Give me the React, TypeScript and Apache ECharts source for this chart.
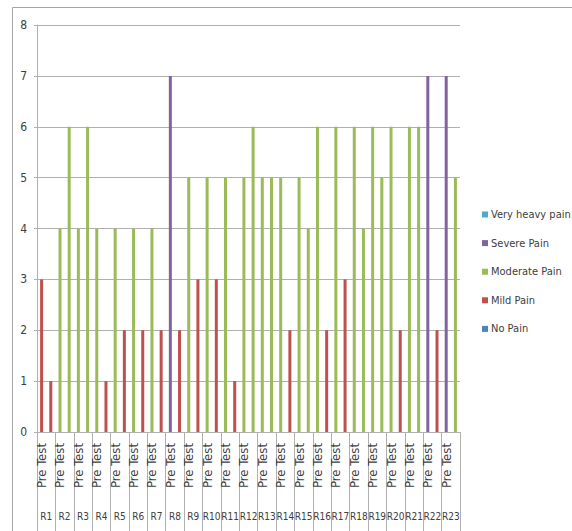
import React, { useEffect, useRef } from "react";
import * as echarts from "echarts";

const groups = ["R1","R2","R3","R4","R5","R6","R7","R8","R9","R10","R11","R12","R13","R14","R15","R16","R17","R18","R19","R20","R21","R22","R23"];
const testLabels = ["Pre Test", "Post Test"];
const yTicks = [0, 1, 2, 3, 4, 5, 6, 7, 8];

const veryHeavyPain: (number | null)[] = [
  null,null, null,null, null,null, null,null, null,null, null,null, null,null, null,null, null,null, null,null, null,null, null,null, null,null, null,null, null,null, null,null, null,null, null,null, null,null, null,null, null,null, null,null, null,null,
];
const severePain: (number | null)[] = [
  null,null, null,null, null,null, null,null, null,null, null,null, null,null, 7,null, null,null, null,null, null,null, null,null, null,null, null,null, null,null, null,null, null,null, null,null, null,null, null,null, null,null, 7,null, 7,null,
];
const moderatePain: (number | null)[] = [
  null,null, 4,6, 4,6, 4,null, 4,null, 4,null, 4,null, null,null, 5,null, 5,null, 5,null, 5,6, 5,5, 5,null, 5,4, 6,null, 6,null, 6,4, 6,5, 6,null, 6,6, null,null, null,5,
];
const mildPain: (number | null)[] = [
  3,1, null,null, null,null, null,1, null,2, null,2, null,2, null,2, null,3, null,3, null,1, null,null, null,null, null,2, null,null, null,2, null,3, null,null, null,null, null,2, null,null, null,2, null,null,
];
const noPain: (number | null)[] = [
  null,null, null,null, null,null, null,null, null,null, null,null, null,null, null,null, null,null, null,null, null,null, null,null, null,null, null,null, null,null, null,null, null,null, null,null, null,null, null,null, null,null, null,null, null,null,
];

const FONT = "'DejaVu Sans Condensed', 'Liberation Sans', sans-serif";
const TEXT = "#404040";
const GRID = "#b0b0b0";

export default function App() {
  const ref = useRef<HTMLDivElement>(null);
  useEffect(() => {
    if (!ref.current) return;
    const chart = echarts.init(ref.current, undefined, { renderer: "svg" });
    const categories: string[] = [];
    groups.forEach(() => testLabels.forEach((t) => categories.push(t)));
    const mk = (name: string, data: (number | null)[], color: string) => ({
      name,
      type: "bar",
      stack: "total",
      barWidth: 3,
      data,
      itemStyle: { color },
      xAxisIndex: 0,
    });
    chart.setOption({
      animation: false,
      backgroundColor: "#ffffff",
      textStyle: { fontFamily: FONT },
      grid: { left: 37, right: 112, top: 25, bottom: 99, containLabel: false },
      graphic: [
        {
          type: "rect",
          shape: { x: 12.5, y: 7.5, width: 700, height: 700 },
          style: { fill: "none", stroke: "#a6a6a6", lineWidth: 1 },
          silent: true,
        },
      ],
      legend: {
        orient: "vertical",
        left: 477,
        top: 204,
        itemWidth: 6,
        itemHeight: 6,
        itemGap: 17.6,
        icon: "rect",
        textStyle: { color: TEXT, fontSize: 11, fontFamily: FONT, padding: [0, 0, 0, -2] },
        data: ["Very heavy pain", "Severe Pain", "Moderate Pain", "Mild Pain", "No Pain"],
      },
      xAxis: [
        {
          type: "category",
          data: categories,
          boundaryGap: true,
          axisLine: { show: true, lineStyle: { color: GRID } },
          axisTick: { show: true, interval: 1, length: 100, lineStyle: { color: GRID } },
          axisLabel: {
            interval: 1,
            rotate: 90,
            margin: 11,
            fontSize: 13,
            color: TEXT,
            fontFamily: FONT,
          },
        },
        {
          type: "category",
          data: groups,
          position: "bottom",
          boundaryGap: true,
          axisLine: { show: false },
          axisTick: { show: false },
          axisLabel: { interval: 0, margin: 79, fontSize: 10, color: TEXT, fontFamily: FONT },
        },
      ],
      yAxis: {
        type: "value",
        min: yTicks[0],
        max: yTicks[yTicks.length - 1],
        interval: 1,
        axisLine: { show: true, lineStyle: { color: GRID } },
        axisTick: { show: true, length: 3, lineStyle: { color: GRID } },
        axisLabel: { margin: 10, fontSize: 12, color: TEXT, fontFamily: FONT },
        splitLine: { show: true, lineStyle: { color: GRID } },
      },
      series: [
        mk("No Pain", noPain, "#4F81BD"),
        mk("Mild Pain", mildPain, "#C0504D"),
        mk("Moderate Pain", moderatePain, "#9BBB59"),
        mk("Severe Pain", severePain, "#8064A2"),
        mk("Very heavy pain", veryHeavyPain, "#4BACC6"),
      ],
    });
    return () => chart.dispose();
  }, []);
  return (
    <div
      ref={ref}
      style={{ position: "fixed", left: 0, top: 0, width: 572, height: 531, background: "#fff" }}
    />
  );
}
